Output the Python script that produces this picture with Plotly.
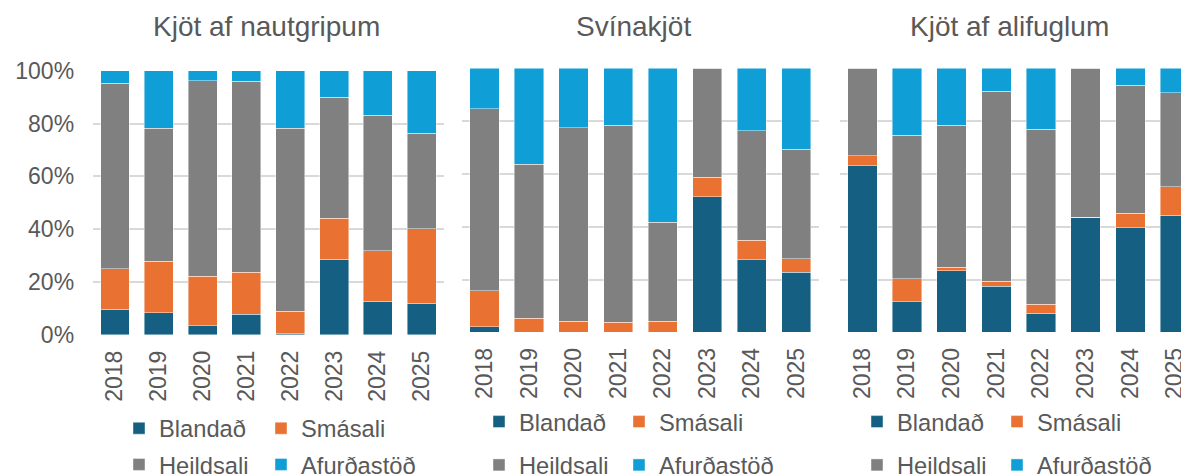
import plotly.graph_objects as go

years = ["2018", "2019", "2020", "2021", "2022", "2023", "2024", "2025"]
series_names = ["Blandað", "Smásali", "Heildsali", "Afurðastöð"]
colors = ["#156082", "#E97132", "#808080", "#0F9ED5"]
titles = ["Kjöt af nautgripum", "Svínakjöt", "Kjöt af alifuglum"]
y_tick_vals = [0, 20, 40, 60, 80, 100]
y_tick_text = ["0%", "20%", "40%", "60%", "80%", "100%"]

# Shares in percent (segments, stacked bottom to top)
naut_blandad = [9.7, 8.4, 3.5, 7.8, 0.4, 28.6, 12.7, 12.0]
naut_smasali = [15.3, 19.6, 18.8, 16.0, 8.6, 15.5, 19.1, 28.2]
naut_heildsali = [70.2, 50.3, 73.9, 72.2, 69.2, 45.8, 51.3, 36.1]
naut_afurdastod = [4.8, 21.7, 3.8, 4.0, 21.8, 10.1, 16.9, 23.7]

svin_blandad = [2.1, 0.0, 0.0, 0.0, 0.0, 51.4, 27.5, 22.7]
svin_smasali = [13.7, 5.3, 4.2, 3.9, 4.2, 7.3, 7.3, 5.2]
svin_heildsali = [68.8, 58.3, 73.2, 74.6, 37.5, 41.3, 41.5, 41.4]
svin_afurdastod = [15.4, 36.4, 22.6, 21.5, 58.3, 0.0, 23.7, 30.7]

ali_blandad = [63.1, 11.6, 23.4, 17.4, 7.2, 43.6, 39.6, 44.3]
ali_smasali = [3.7, 8.7, 1.3, 2.0, 3.5, 0.0, 5.5, 10.8]
ali_heildsali = [33.2, 54.3, 53.7, 72.0, 66.2, 56.4, 48.5, 35.7]
ali_afurdastod = [0.0, 25.4, 21.6, 8.6, 23.1, 0.0, 6.4, 9.2]

panels = [
    [naut_blandad, naut_smasali, naut_heildsali, naut_afurdastod],
    [svin_blandad, svin_smasali, svin_heildsali, svin_afurdastod],
    [ali_blandad, ali_smasali, ali_heildsali, ali_afurdastod],
]

W, H = 1181, 474
def px(x):
    return x / W
def py(y):
    return 1 - y / H

x_domains = [(93.1, 443.6), (462.4, 818.5), (840.0, 1181.0)]
y_domains = [(70.7, 335.0), (68.3, 332.3), (68.3, 332.3)]
x_ranges = [[-0.5, 7.5], [-0.5, 7.5], [-0.5, -0.5 + (1181 - 840.0) / 44.67]]
title_x = [266, 633, 1009]
# text start x of legend entries (col 1, col 2) and row centres
legend_text_x = [(160, 302), (520, 660), (898, 1038)]
legend_rows_y = [(428.3, 464.5), (421.7, 465), (421.7, 465)]
LEG_TEXT_OFFSET = 41  # px from legend x to text start

text_color = "#595959"
font_family = "Liberation Sans, Arial, sans-serif"

fig = go.Figure()
layout = dict(
    width=W, height=H,
    margin=dict(l=0, r=0, t=0, b=0, autoexpand=False),
    paper_bgcolor="white", plot_bgcolor="white",
    barmode="stack", bargap=0.34, showlegend=True,
    font=dict(family=font_family, color=text_color, size=23),
    annotations=[],
)

for p, vals in enumerate(panels):
    ax = "" if p == 0 else str(p + 1)
    for s, name in enumerate(series_names):
        k = 4 * p + s
        lname = "legend" + ("" if k == 0 else str(k + 1))
        fig.add_trace(go.Bar(
            x=years, y=vals[s], name=name, showlegend=True,
            marker=dict(color=colors[s], line=dict(color="rgba(255,255,255,0.55)", width=0.8)),
            xaxis="x" + ax, yaxis="y" + ax,
            legend=lname,
            hovertemplate="%{x}: %{y:.1f}%<extra>" + name + "</extra>",
        ))
        row, col = divmod(s, 2)
        layout[lname] = dict(
            orientation="h",
            x=px(legend_text_x[p][col] - LEG_TEXT_OFFSET), xanchor="left",
            y=py(legend_rows_y[p][row]), yanchor="middle",
            font=dict(size=23.7, color=text_color, family=font_family),
            bgcolor="rgba(0,0,0,0)", borderwidth=0, visible=True,
            itemclick=False, itemdoubleclick=False,
        )
    xd = x_domains[p]
    yd = y_domains[p]
    layout["xaxis" + ax] = dict(
        domain=[px(xd[0]), px(xd[1])], range=x_ranges[p], type="category",
        anchor="y" + ax, showgrid=False, zeroline=False, showline=False,
        tickangle=-90, tickfont=dict(size=23, color=text_color), ticks="",
        ticklabelstandoff=10, automargin=False,
    )
    layout["yaxis" + ax] = dict(
        domain=[py(yd[1]), py(yd[0])], range=[0, 100], anchor="x" + ax,
        tickmode="array", tickvals=y_tick_vals, ticktext=y_tick_text,
        showticklabels=(p == 0), tickfont=dict(size=23, color=text_color),
        showgrid=True, gridcolor="#d9d9d9", gridwidth=1.5,
        zeroline=False, showline=False, ticks="", ticklabelstandoff=18,
        automargin=False,
    )
    layout["annotations"].append(dict(
        text=titles[p], x=px(title_x[p]), y=py(26), xref="paper", yref="paper",
        xanchor="center", yanchor="middle", showarrow=False,
        font=dict(size=28, color=text_color, family=font_family),
    ))

fig.update_layout(**layout)
fig.write_html(
    "out.html",
    config={"displayModeBar": False},
    post_script="document.body.style.margin='0';document.body.style.overflow='hidden';",
)
